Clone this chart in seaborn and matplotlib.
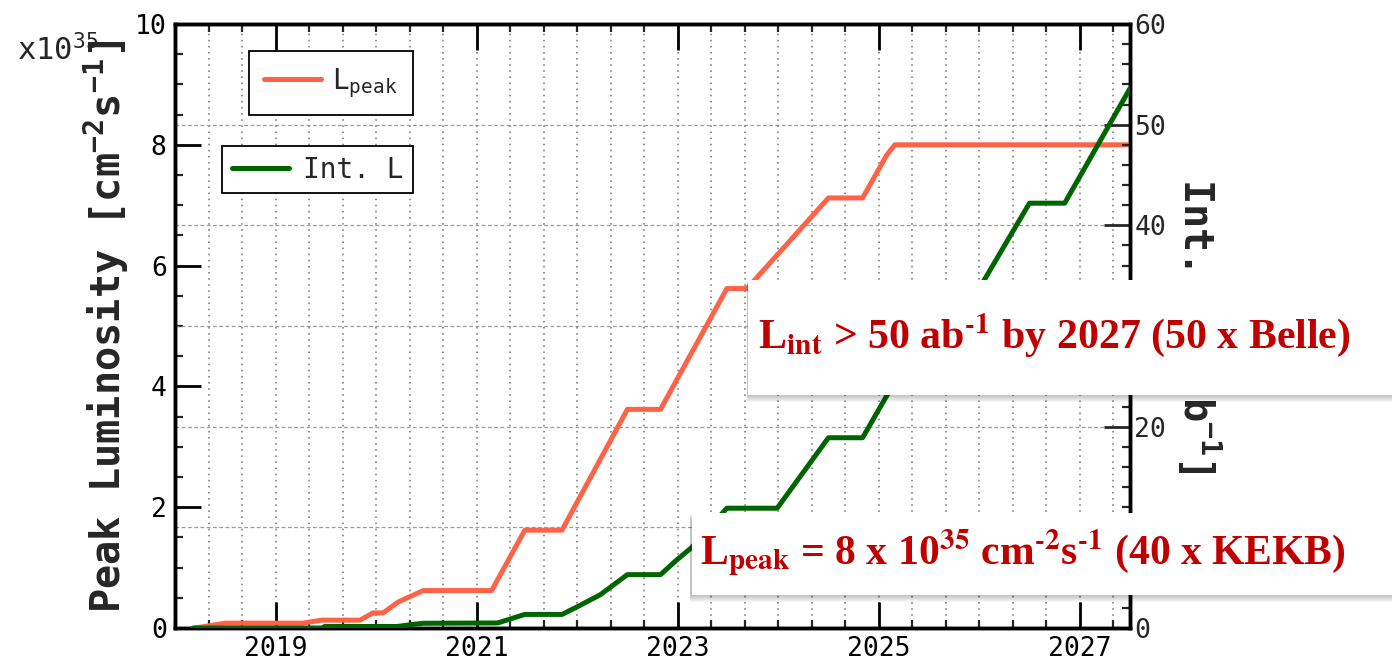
import numpy as np
import matplotlib
matplotlib.use("Agg")
import matplotlib.pyplot as plt
import seaborn as sns
from matplotlib.patches import Rectangle
from matplotlib.lines import Line2D
from matplotlib.ticker import FixedLocator, FixedFormatter

# ---------------- data ----------------
years_peak = [2018.20, 2018.50, 2019.27, 2019.46, 2019.84, 2019.97, 2020.07, 2020.22,
              2020.47, 2021.15, 2021.48, 2021.85, 2022.50, 2022.83, 2023.49, 2023.69,
              2024.50, 2024.84, 2025.08, 2025.16, 2027.50]
peak_lumi = [0.0, 0.08, 0.08, 0.13, 0.13, 0.25, 0.25, 0.43,
             0.62, 0.62, 1.62, 1.62, 3.62, 3.62, 5.62, 5.62,
             7.12, 7.12, 7.83, 8.0, 8.0]

years_int = [2018.18, 2019.46, 2019.49, 2020.21, 2020.36, 2020.47, 2021.21, 2021.48,
             2021.85, 2022.00, 2022.23, 2022.50, 2022.83, 2022.99, 2023.14, 2023.49,
             2023.99, 2024.50, 2024.84, 2025.45, 2025.77, 2026.04, 2026.50, 2026.85,
             2027.50]
int_lumi = [0.0, 0.0, 0.15, 0.15, 0.35, 0.47, 0.5, 1.35,
            1.35, 2.1, 3.3, 5.3, 5.3, 6.75, 8.0, 11.9,
            11.9, 18.9, 18.9, 29.5, 29.5, 34.4, 42.2, 42.2,
            53.6]

x_major = [2019, 2021, 2023, 2025, 2027]
x_labels = ["2019", "2021", "2023", "2025", "2027"]
y_left_ticks = [0, 2, 4, 6, 8, 10]
y_right_ticks = [0, 10, 20, 30, 40, 50, 60]

HY = "\u2010"  # hyphen for superscripts
note_int = r"L$_{\mathbf{int}}$ > 50 ab$^{\mathbf{" + HY + r"1}}$ by 2027 (50 x Belle)"
note_peak = (r"L$_{\mathbf{peak}}$ = 8 x 10$^{\mathbf{35}}$ cm$^{\mathbf{" + HY +
             r"2}}$s$^{\mathbf{" + HY + r"1}}$ (40 x KEKB)")

# ---------------- style ----------------
sns.set_style("ticks")
plt.rcParams['font.family'] = ['DejaVu Sans Mono', 'DejaVu Sans']
plt.rcParams['mathtext.fontset'] = 'custom'
plt.rcParams['mathtext.rm'] = 'DejaVu Sans Mono'
plt.rcParams['mathtext.it'] = 'DejaVu Sans Mono'
plt.rcParams['mathtext.bf'] = 'DejaVu Sans Mono:bold'

ORANGE = '#FF6347'
GREEN = '#006400'
RED = '#C00000'

W, H = 1392, 666
fig = plt.figure(figsize=(W / 100, H / 100), dpi=100)
ax = fig.add_axes([175 / W, (H - 628) / H, 955 / W, 604 / H])
ax2 = ax.twinx()

# horizontal grid lines (from right-axis ticks), drawn on the left axis
for v in y_right_ticks[1:-1]:
    ax.axhline(v * 10 / 60, color='#9a9a9a', lw=0.9, ls=(0, (3, 2)), zorder=1)

sns.lineplot(x=years_peak, y=peak_lumi, ax=ax, color=ORANGE, lw=3.6,
             estimator=None, zorder=3)
sns.lineplot(x=years_int, y=int_lumi, ax=ax2, color=GREEN, lw=3.6,
             estimator=None, zorder=3)

ax.set_xlim(2018, 2027.5)
ax.set_ylim(0, 10)
ax2.set_ylim(0, 60)

ax.xaxis.set_major_locator(FixedLocator(x_major))
ax.xaxis.set_major_formatter(FixedFormatter(x_labels))
ax.xaxis.set_minor_locator(FixedLocator(np.arange(2018, 2027.51, 1 / 3)))
ax.yaxis.set_major_locator(FixedLocator(y_left_ticks))
ax.yaxis.set_minor_locator(FixedLocator(np.arange(0, 10.01, 0.5)))
ax2.yaxis.set_major_locator(FixedLocator(y_right_ticks))
ax2.yaxis.set_minor_locator(FixedLocator(np.arange(0, 60.1, 2)))

ax.grid(which='both', axis='x', color='#707070', lw=1.1, ls=(0, (1, 3)), zorder=1)
ax.set_axisbelow(True)

ax.tick_params(which='major', direction='in', length=19, width=2.0, top=True,
               right=False, labelsize=19, pad=6, colors='black')
ax.tick_params(which='minor', direction='in', length=6, width=1.6, top=True,
               right=False)
ax2.tick_params(which='major', direction='in', length=19, width=2.0,
                labelsize=19, pad=3)
ax2.tick_params(which='minor', direction='in', length=6, width=1.6)

for a in (ax, ax2):
    for s in a.spines.values():
        s.set_linewidth(2.5)
        s.set_color('black')

ax.set_xlabel("")
ax.set_ylabel(r"Peak Luminosity [cm$^{\mathbf{-2}}$s$^{\mathbf{-1}}$]",
              fontsize=29, fontweight='bold')
ax.yaxis.set_label_coords(-0.046, 0.5)
ax2.set_ylabel(r"Int. L [ab$^{\mathbf{-1}}$]", fontsize=29, fontweight='bold',
               rotation=270, va='bottom')
ax2.yaxis.set_label_coords(1.047, 0.5)

fig.text(17 / W, 1 - 50 / H, r"x10$^{35}$", fontsize=22, ha='left', va='center')

# legends
h1 = Line2D([], [], color=ORANGE, lw=3.6)
h2 = Line2D([], [], color=GREEN, lw=3.6)
leg1 = ax.legend([h1], [r"L$_{\mathrm{peak}}$"], loc='upper right',
                 bbox_to_anchor=((413 - 175) / 955, (628 - 51) / 604),
                 borderaxespad=0, fancybox=False, edgecolor='black', framealpha=1,
                 fontsize=20, handlelength=2.05, handletextpad=0.4, borderpad=0.55)
leg1.get_frame().set_linewidth(1.3)
ax.add_artist(leg1)
leg2 = ax.legend([h2], ["Int. L"], loc='upper right',
                 bbox_to_anchor=((413 - 175) / 955, (628 - 146) / 604),
                 borderaxespad=0, fancybox=False, edgecolor='black', framealpha=1,
                 fontsize=20, handlelength=2.05, handletextpad=0.5, borderpad=0.35)
leg2.get_frame().set_linewidth(1.3)


# annotation boxes (figure-level, on top)
def note_box(x0, top, bottom, text, tx, ty, size):
    x = x0 / W
    y = 1 - bottom / H
    h = (bottom - top) / H
    w = 1.1 - x
    for i in range(1, 8):
        fig.add_artist(Rectangle((x - 1.5 / W, y - i / H), w, h, transform=fig.transFigure,
                                 facecolor='black', edgecolor='none', alpha=0.035,
                                 zorder=9))
    fig.add_artist(Rectangle((x, y), w, h, transform=fig.transFigure,
                             facecolor='white', edgecolor='none', zorder=10))
    fig.text(tx / W, 1 - ty / H, text, color=RED, fontsize=size, fontweight='bold',
             family='Liberation Serif', math_fontfamily='stix', ha='left',
             va='baseline', zorder=11)


note_box(748, 280, 395, note_int, 758, 348, 30.2)
note_box(692, 513, 595, note_peak, 700, 564, 30.0)

fig.savefig("out.png", dpi=100)
